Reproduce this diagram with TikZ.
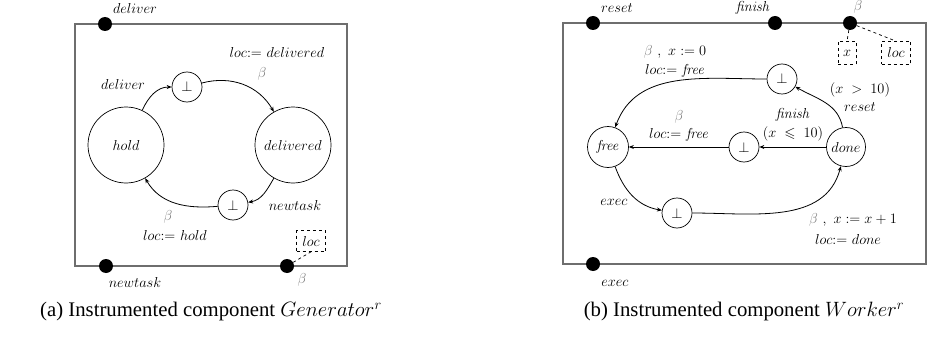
\documentclass[tikz,border=0pt]{standalone}
\usepackage{amssymb}
\usepackage[no-math]{fontspec}
\newfontfamily\capfont{Liberation Serif}
\usetikzlibrary{arrows.meta}
\definecolor{frame_gray}{HTML}{6E6E6E}
\definecolor{beta_gray}{HTML}{777777}
\newcommand{\lblsize}{\fontsize{14.4}{17}\selectfont}
\newcommand{\gbeta}{{\color{beta_gray}\beta}}

\begin{document}
\begin{tikzpicture}[x=1pt, y=1pt, >={Stealth[length=5pt,width=4pt]},
  state/.style={circle, draw, line width=0.7pt, inner sep=0pt, font=\lblsize},
  bot/.style={circle, draw, line width=0.7pt, minimum size=30pt, inner sep=0pt, font=\lblsize},
  port/.style={circle, fill=black, minimum size=14pt, inner sep=0pt},
  var/.style={draw, dashed, line width=0.7pt, inner sep=0pt, minimum height=22pt, font=\lblsize},
  trans/.style={->, line width=0.8pt},
  txt/.style={inner sep=0pt, font=\lblsize},
  frame/.style={draw=frame_gray, line width=1.4pt}]
\useasboundingbox (0,0) rectangle (928,-342);

\draw [frame] (75,-24) rectangle (347,-266);
\node (PDeliver) [port] at (105,-24) {};
\node (PNewtask) [port] at (106,-266) {};
\node (PBetaA) [port] at (287,-266) {};
\node (LocA) [var, minimum width=29pt, minimum height=21pt] at (311,-241) {$loc$};
\path [dashed, line width=0.7pt] (PBetaA) edge (LocA.south);
\node (tDeliverP) [txt] at (135,-9) {$deliver$};
\node (tNewtaskP) [txt] at (135,-282) {$newtask$};
\node (tBetaA) [txt] at (302,-280) {$\gbeta$};
\node (Hold) [state, minimum size=76pt] at (126,-145) {$hold$};
\node (Delivered) [state, minimum size=76pt] at (293,-145) {$delivered$};
\node (BotUp) [bot] at (187,-87) {$\bot$};
\node (BotDown) [bot] at (233,-205) {$\bot$};
\path [trans] (Hold) edge [out=65, in=180] (BotUp);
\path [trans] (BotUp) edge [out=15, in=120] (Delivered);
\path [trans] (Delivered) edge [out=-120, in=10] (BotDown);
\path [trans] (BotDown) edge [out=185, in=-60] (Hold);
\node (tDeliver) [txt] at (123,-85) {$deliver$};
\node (tLocDel) [txt] at (277,-53) {$loc{:}{=}\ delivered$};
\node (tBetaDel) [txt] at (262,-74) {$\gbeta$};
\node (tNewtask) [txt] at (295,-205) {$newtask$};
\node (tBetaHold) [txt] at (168,-217) {$\gbeta$};
\node (tLocHold) [txt] at (175,-235) {$loc{:}{=}\ hold$};
\node (CapA) [inner sep=0pt, font=\capfont\fontsize{20.74}{25}\selectfont] at (211,-312) {(a) Instrumented component $Generator^{r}$};

\draw [frame] (563,-23) rectangle (926,-264);
\node (PReset) [port] at (593,-23) {};
\node (PFinish) [port] at (775,-23) {};
\node (PBetaB) [port] at (850,-23) {};
\node (PExec) [port] at (593,-264) {};
\node (XB) [var, minimum width=18pt, minimum height=23pt] at (847,-53) {$x$};
\node (LocB) [var, minimum width=29pt, minimum height=23pt] at (896,-53) {$loc$};
\path [dashed, line width=0.7pt] (PBetaB) edge (XB.north);
\path [dashed, line width=0.7pt] (PBetaB) edge (LocB.north);
\node (tResetP) [txt] at (617,-8) {$reset$};
\node (tFinishP) [txt] at (753,-8) {$\mathit{finish}$};
\node (tBetaB) [txt] at (858,-7) {$\gbeta$};
\node (tExecP) [txt] at (615,-283) {$exec$};
\node (Free) [state, minimum size=41pt] at (608,-147) {$\mathit{free}$};
\node (Done) [state, minimum size=39pt] at (846,-147) {$done$};
\node (BotTop) [bot] at (782,-79) {$\bot$};
\node (BotMid) [bot] at (744,-147) {$\bot$};
\node (BotLow) [bot] at (677,-213) {$\bot$};
\path [trans] (Done) edge [out=100, in=-30] (BotTop);
\path [trans] (BotTop) edge [out=180, in=70] (Free);
\path [trans] (Done) edge (BotMid);
\path [trans] (BotMid) edge (Free);
\path [trans] (Free) edge [out=-70, in=170] (BotLow);
\path [trans] (BotLow) edge [out=0, in=-105] (Done);
\node (tResetBeta) [txt] at (675,-52) {$\gbeta\ ,\ x := 0$};
\node (tLocFreeA) [txt] at (675,-71) {$loc{:}{=}\ \mathit{free}$};
\node (tGuardA) [txt] at (860,-90) {$(x\; >\; 10)$};
\node (tReset) [txt] at (860,-107) {$reset$};
\node (tBetaFree) [txt] at (679,-117) {$\gbeta$};
\node (tLocFreeB) [txt] at (679,-135) {$loc{:}{=}\ \mathit{free}$};
\node (tFinish) [txt] at (793,-115) {$\mathit{finish}$};
\node (tGuardB) [txt] at (793,-134) {$(x\; \leqslant\; 10)$};
\node (tExec) [txt] at (614,-202) {$exec$};
\node (tInc) [txt] at (853,-220) {$\gbeta\ ,\ x := x+1$};
\node (tLocDone) [txt] at (848,-239) {$loc{:}{=}\ done$};
\node (CapB) [inner sep=0pt, font=\capfont\fontsize{20.74}{25}\selectfont] at (744,-312) {(b) Instrumented component $Worker^{r}$};
\end{tikzpicture}
\end{document}
